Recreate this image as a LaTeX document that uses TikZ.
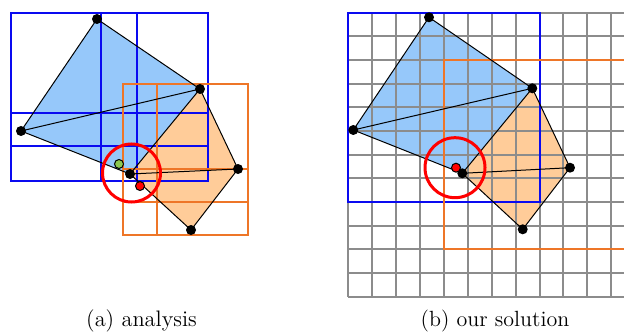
\documentclass[tikz,border=0pt]{standalone}
\definecolor{boxblue}{RGB}{10,10,240}
\definecolor{fillblue}{RGB}{150,200,250}
\definecolor{boxorange}{RGB}{238,118,40}
\definecolor{fillorange}{RGB}{255,204,153}
\definecolor{gridgray}{RGB}{140,140,140}
\definecolor{dotgreen}{RGB}{140,200,80}
\tikzset{
  bluebox/.style={draw=boxblue, line width=1pt},
  orangebox/.style={draw=boxorange, line width=1pt},
  gridline/.style={draw=gridgray, line width=1pt},
  edge/.style={draw=black, line width=0.5pt},
  vertex/.style={fill=black},
  reachcircle/.style={draw=red, line width=1.5pt},
}
\begin{document}
\begin{tikzpicture}[x=0.5pt,y=-0.5pt]
\useasboundingbox (0,0) rectangle (624,331);
% (a)
\coordinate (at) at (97,19);
\coordinate (ar) at (200,89);
\coordinate (al) at (21,131);
\coordinate (am) at (130,174);
\coordinate (ae) at (238,169);
\coordinate (ab) at (191,230);
\fill[fillblue] (at) -- (ar) -- (am) -- (al) -- cycle;
\fill[fillorange] (ar) -- (ae) -- (ab) -- (am) -- cycle;
\draw[bluebox] (11,13) rectangle (208,181);
\draw[bluebox] (101,13) -- (101,181);
\draw[bluebox] (137,13) -- (137,181);
\draw[bluebox] (11,113) -- (208,113);
\draw[bluebox] (11,146) -- (208,146);
\draw[orangebox] (123,84) rectangle (248,235);
\draw[orangebox] (157,84) -- (157,235);
\draw[orangebox] (123,169) -- (248,169);
\draw[orangebox] (123,202) -- (248,202);
\draw[edge] (at) -- (ar) -- (am) -- (al) -- cycle;
\draw[edge] (ar) -- (ae) -- (ab) -- (am);
\draw[edge] (al) -- (ar);
\draw[edge] (am) -- (ae);
\foreach \p in {at,ar,al,am,ae,ab}
  \fill[vertex] (\p) circle (5);
\draw[edge, fill=dotgreen] (119,164) circle (4.5);
\draw[edge, fill=red] (140,186) circle (4.5);
\draw[reachcircle] (131.5,173) circle (29);
\node (capa) at (141.5,321) {\fontsize{11.2}{13}\selectfont (a) analysis};
% (b)
\coordinate (bt) at (429,17.3);
\coordinate (br) at (532.3,88.3);
\coordinate (bl) at (353.3,130);
\coordinate (bm) at (462.3,173.3);
\coordinate (be) at (570,167.7);
\coordinate (bb) at (522.7,229.3);
\fill[fillblue] (bt) -- (br) -- (bm) -- (bl) -- cycle;
\fill[fillorange] (br) -- (be) -- (bb) -- (bm) -- cycle;
\foreach \i in {0,...,11}
  \draw[gridline] ({348.3+23.9*\i},12.7) -- ({348.3+23.9*\i},296.7);
\foreach \j in {0,...,12}
  \draw[gridline] (348.3,{12.7+23.67*\j}) -- (624,{12.7+23.67*\j});
\draw[bluebox] (348.3,12.7) rectangle (539.5,202.1);
\draw[orangebox] (624,60) -- (443.9,60) -- (443.9,249.4) -- (624,249.4);
\draw[edge] (bt) -- (br) -- (bm) -- (bl) -- cycle;
\draw[edge] (br) -- (be) -- (bb) -- (bm);
\draw[edge] (bl) -- (br);
\draw[edge] (bm) -- (be);
\foreach \p in {bt,br,bl,bm,be,bb}
  \fill[vertex] (\p) circle (5);
\draw[edge, fill=red] (456,167.7) circle (4.5);
\draw[reachcircle] (455,167.7) circle (30);
\node (capb) at (495,321) {\fontsize{11}{13}\selectfont (b) our solution};
\end{tikzpicture}
\end{document}
